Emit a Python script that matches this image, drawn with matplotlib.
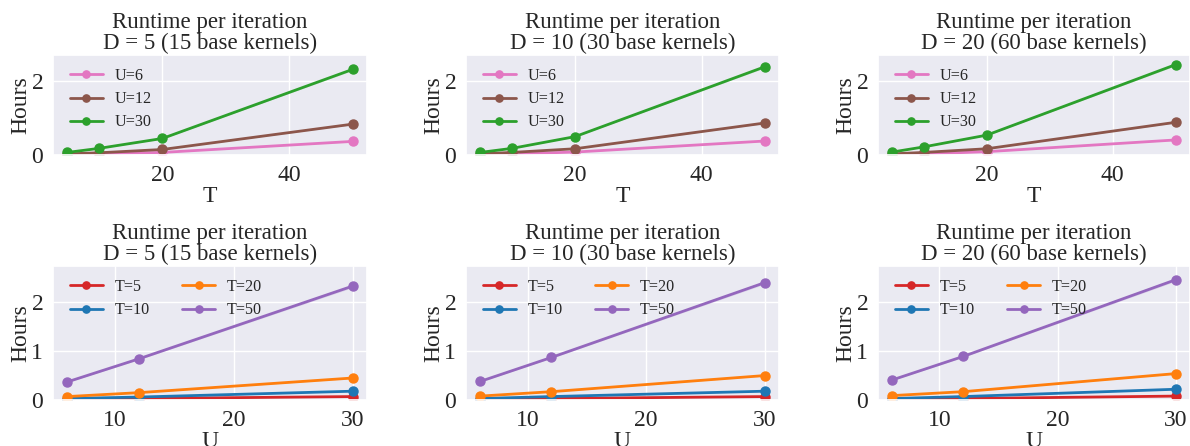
import matplotlib
matplotlib.use("Agg")
import matplotlib.pyplot as plt
import seaborn as sns
import numpy as np

# ---- data ----
T_values = [5, 10, 20, 50]
U_values = [6, 12, 30]
D_values = [5, 10, 20]
base_kernels = [15, 30, 60]

# hours[U index][T index]
hours_D5 = [[0.01, 0.03, 0.07, 0.37],
            [0.03, 0.06, 0.15, 0.84],
            [0.07, 0.18, 0.45, 2.33]]
hours_D10 = [[0.01, 0.03, 0.08, 0.38],
             [0.03, 0.07, 0.17, 0.87],
             [0.07, 0.18, 0.50, 2.40]]
hours_D20 = [[0.01, 0.03, 0.09, 0.41],
             [0.03, 0.07, 0.17, 0.89],
             [0.08, 0.22, 0.54, 2.46]]
# approximate spread (half-width of shaded band) per U, per T
spread_D5 = [[0.002, 0.003, 0.004, 0.01],
             [0.002, 0.003, 0.005, 0.015],
             [0.003, 0.005, 0.01, 0.03]]
spread_D10 = spread_D5
spread_D20 = spread_D5

all_hours = [hours_D5, hours_D10, hours_D20]
all_spread = [spread_D5, spread_D10, spread_D20]

U_colors = ["tab:pink", "tab:brown", "tab:green"]
T_colors = ["tab:red", "tab:blue", "tab:orange", "tab:purple"]

sns.set_theme(style="darkgrid")
plt.rcParams["font.family"] = ["Liberation Serif", "DejaVu Serif"]

W, H = 1190, 446
fig = plt.figure(figsize=(W / 100, H / 100), dpi=100)

lefts = [53, 466, 878]
widths = [314, 313, 312]
top_row = (55, 155)
bot_row = (266, 400)

def add_ax(col, row):
    y0, y1 = row
    return fig.add_axes([lefts[col] / W, 1 - y1 / H, widths[col] / W, (y1 - y0) / H])

TF = 16.5
LF = 17
KF = 17
GF = 11.6
YPAD = 0
leg_kw = dict(loc="upper left", bbox_to_anchor=(0.012, 1.0), frameon=False, fontsize=GF,
              handlelength=2.05, labelspacing=0.45, borderaxespad=0.4, handletextpad=0.75,
              markerscale=0.8)

for j in range(3):
    h = np.array(all_hours[j])
    s = np.array(all_spread[j])
    title = f"Runtime per iteration\nD = {D_values[j]} ({base_kernels[j]} base kernels)"

    # top: x = T, lines per U
    ax = add_ax(j, top_row)
    for i, U in enumerate(U_values):
        ax.fill_between(T_values, h[i] - s[i], h[i] + s[i], color=U_colors[i], alpha=0.2, lw=0)
        ax.plot(T_values, h[i], "-o", color=U_colors[i], lw=2, ms=6.5, label=f"U={U}")
    ax.set_ylim(0, 2.72)
    ax.set_xticks([20, 40])
    ax.set_yticks([0, 2])
    ax.set_xlabel("T", fontsize=LF, labelpad=0)
    ax.set_ylabel("Hours", fontsize=LF, labelpad=YPAD)
    ax.set_title(title, fontsize=TF, pad=4, linespacing=1.0)
    ax.tick_params(labelsize=KF, pad=1)
    ax.legend(**leg_kw)

    # bottom: x = U, lines per T
    ax = add_ax(j, bot_row)
    for k, T in enumerate(T_values):
        ax.fill_between(U_values, h[:, k] - s[:, k], h[:, k] + s[:, k], color=T_colors[k], alpha=0.2, lw=0)
        ax.plot(U_values, h[:, k], "-o", color=T_colors[k], lw=2, ms=6.5, label=f"T={T}")
    ax.set_ylim(0, 2.74)
    ax.set_xticks([10, 20, 30])
    ax.set_yticks([0, 1, 2])
    ax.set_xlabel("U", fontsize=LF, labelpad=0)
    ax.set_ylabel("Hours", fontsize=LF, labelpad=YPAD)
    ax.set_title(title, fontsize=TF, pad=4, linespacing=1.0)
    ax.tick_params(labelsize=KF, pad=1)
    ax.legend(ncol=2, columnspacing=2.0, **leg_kw)

fig.savefig("out.png", dpi=100)
